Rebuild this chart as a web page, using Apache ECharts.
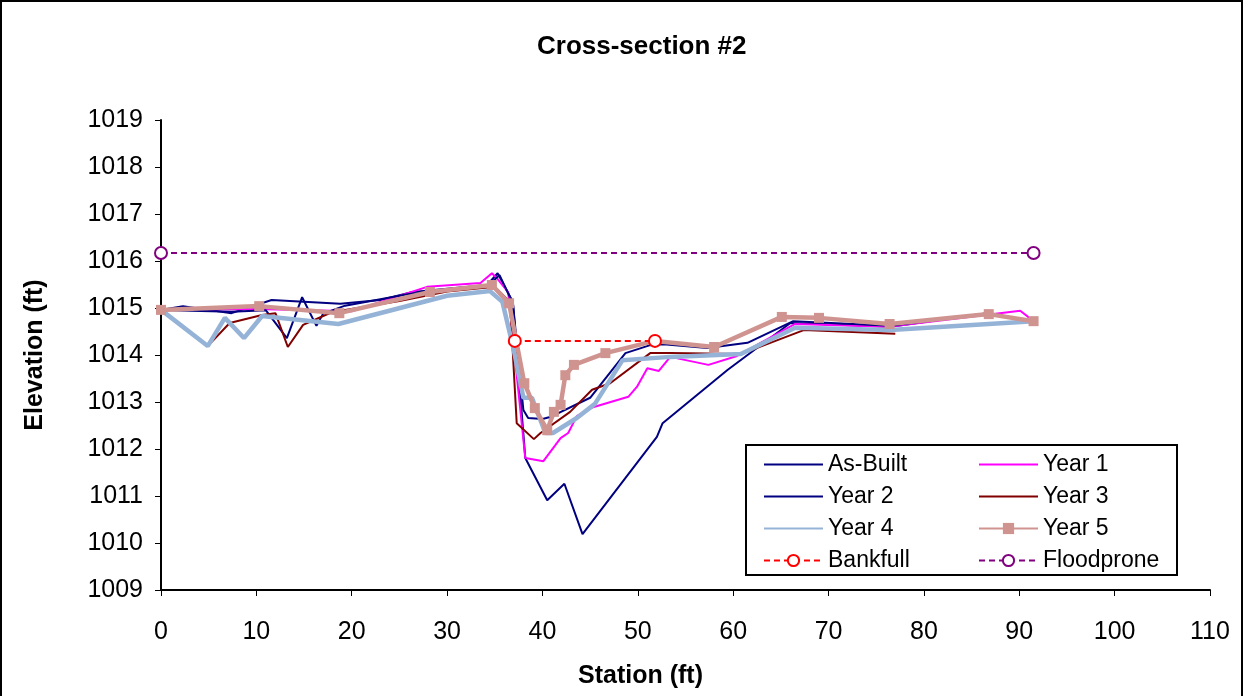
<!DOCTYPE html>
<html>
<head>
<meta charset="utf-8">
<script src="https://cdn.jsdelivr.net/npm/echarts@6/dist/echarts.min.js"></script>
<style>
  html, body { margin: 0; padding: 0; background: #fff; }
  #chart { width: 1243px; height: 696px; box-sizing: border-box; border: 2px solid #000; border-bottom: none; }
</style>
</head>
<body>
<div id="chart"></div>
<script>
// station (ft) / elevation (ft)
const asBuiltX = [0, 2.3, 7.4, 11.6, 18.8, 23, 26.4, 34.2, 35.3, 36.9, 38.2, 40.5, 42.3, 44.2, 52.0, 52.6, 59.4, 66.0, 76.5, 86.7, 91.5]
const asBuiltY = [1014.96, 1015.04, 1014.89, 1015.17, 1015.09, 1015.17, 1015.34, 1015.49, 1015.74, 1015.13, 1011.81, 1010.91, 1011.26, 1010.19, 1012.26, 1012.55, 1013.68, 1014.68, 1014.6, 1014.89, 1014.72]

const year1X = [0, 10, 20, 27.9, 33.5, 34.7, 35.2, 36.4, 38.2, 40.1, 41.9, 42.7, 43.6, 45.3, 49.0, 49.9, 51.0, 52.2, 53.4, 57.4, 60.4, 66.5, 76.3, 90.1, 91.5]
const year1Y = [1014.96, 1014.98, 1014.93, 1015.45, 1015.53, 1015.74, 1015.64, 1015.34, 1011.81, 1011.74, 1012.23, 1012.34, 1012.70, 1012.89, 1013.11, 1013.32, 1013.72, 1013.66, 1013.96, 1013.79, 1013.98, 1014.66, 1014.6, 1014.94, 1014.72]

const year2X = [0, 7.4, 11, 13.2, 14.8, 16.3, 17.0, 19.3, 26, 34.2, 35.5, 36.9, 38.0, 38.5, 40.0, 40.8, 45.0, 48.7, 51.3, 52.7, 57.3, 61.5, 66.3, 76.5, 86.7, 91.5]
const year2Y = [1014.96, 1014.92, 1014.95, 1014.36, 1015.23, 1014.62, 1014.88, 1015.05, 1015.3, 1015.45, 1015.7, 1015.1, 1012.83, 1012.66, 1012.64, 1012.68, 1013.09, 1014.04, 1014.21, 1014.23, 1014.15, 1014.26, 1014.72, 1014.62, 1014.89, 1014.72]

const year3X = [0, 4.9, 7.2, 10.6, 12.0, 13.3, 14.9, 17.9, 25, 30, 35, 36.6, 37.3, 39.1, 39.8, 42.9, 45.2, 47.1, 51.3, 53.4, 60.8, 67.4, 77.0]
const year3Y = [1014.96, 1014.19, 1014.68, 1014.85, 1014.89, 1014.17, 1014.64, 1014.91, 1015.15, 1015.35, 1015.45, 1015.13, 1012.55, 1012.21, 1012.34, 1012.79, 1013.26, 1013.4, 1014.04, 1014.04, 1014.02, 1014.53, 1014.45]

const year4X = [0, 4.9, 6.7, 8.7, 10.6, 18.6, 30, 34.5, 35.8, 37.0, 38.0, 38.9, 40.3, 41.1, 43.6, 45.5, 48.4, 53.4, 60.8, 66.5, 76.5, 91.5]
const year4Y = [1014.96, 1014.19, 1014.79, 1014.36, 1014.83, 1014.66, 1015.26, 1015.36, 1015.13, 1014.1, 1013.09, 1013.09, 1012.34, 1012.34, 1012.66, 1012.96, 1013.89, 1013.96, 1014.02, 1014.58, 1014.53, 1014.72]

const year5X = [0, 10.3, 18.7, 28.2, 34.7, 36.5, 38.1, 39.2, 40.5, 41.2, 41.9, 42.4, 43.3, 46.6, 51.8, 58.0, 65.1, 69.0, 76.4, 86.8, 91.5]
const year5Y = [1014.96, 1015.04, 1014.89, 1015.34, 1015.49, 1015.1, 1013.4, 1012.87, 1012.4, 1012.79, 1012.94, 1013.57, 1013.79, 1014.04, 1014.3, 1014.17, 1014.81, 1014.79, 1014.66, 1014.87, 1014.72]

const bankfullX = [37.1, 51.8]
const bankfullY = [1014.3, 1014.3]

const floodproneX = [0, 91.5]
const floodproneY = [1016.17, 1016.17]

const pairs = (xs, ys) => xs.map((x, i) => [x, ys[i]])

const chart = echarts.init(document.getElementById('chart'))

const font = 'Liberation Sans, Arial, sans-serif'
const legendText = { fontFamily: font, fontSize: 23, color: '#000' }
const nameStyle = { fontFamily: font, fontSize: 25, fontWeight: 'bold', color: '#000' }

// plain line icon in the legend for series without markers
const lineOnly = name => ({ name: name, itemStyle: { opacity: 0 } })

const option = {
  animation: false,
  title: {
    text: 'Cross-section #2',
    left: 530,
    top: 27,
    textStyle: { ...nameStyle, fontSize: 26 }
  },
  grid: { left: 159, right: 31, top: 118, bottom: 106 },
  xAxis: {
    type: 'value',
    min: 0,
    max: 110,
    interval: 10,
    name: 'Station (ft)',
    nameLocation: 'middle',
    nameGap: 74,
    nameTextStyle: { ...nameStyle, padding: [0, 90, 0, 0] },
    axisLine: { lineStyle: { color: '#000', width: 2 } },
    axisTick: { inside: false, length: 6, lineStyle: { color: '#000' } },
    axisLabel: { fontFamily: font, fontSize: 25, color: '#000', margin: 30 },
    splitLine: { show: false }
  },
  yAxis: {
    type: 'value',
    min: 1009,
    max: 1019,
    interval: 1,
    name: 'Elevation (ft)',
    nameLocation: 'middle',
    nameGap: 113,
    nameTextStyle: nameStyle,
    axisLine: { show: true, lineStyle: { color: '#000', width: 2 } },
    axisTick: { show: true, length: 6, lineStyle: { color: '#000' } },
    axisLabel: { fontFamily: font, fontSize: 25, color: '#000', margin: 18, formatter: v => String(v) },
    splitLine: { show: false }
  },
  legend: [
    {
      orient: 'vertical',
      left: 761,
      top: 451,
      padding: 0,
      itemWidth: 59,
      itemHeight: 14,
      itemGap: 9,
      textStyle: legendText,
      data: [lineOnly('As-Built'), lineOnly('Year 2'), lineOnly('Year 4'), 'Bankfull']
    },
    {
      orient: 'vertical',
      left: 976,
      top: 451,
      padding: 0,
      itemWidth: 59,
      itemHeight: 14,
      itemGap: 9,
      textStyle: legendText,
      data: [lineOnly('Year 1'), lineOnly('Year 3'), 'Year 5', 'Floodprone']
    }
  ],
  graphic: [
    {
      type: 'rect',
      left: 743,
      top: 442,
      z: 0,
      shape: { width: 431, height: 130 },
      style: { fill: '#fff', stroke: '#000', lineWidth: 2 }
    }
  ],
  series: [
    {
      name: 'As-Built', type: 'line', data: pairs(asBuiltX, asBuiltY),
      symbol: 'none', lineStyle: { color: '#000080', width: 2 }, itemStyle: { color: '#000080' }
    },
    {
      name: 'Year 1', type: 'line', data: pairs(year1X, year1Y),
      symbol: 'none', lineStyle: { color: '#FF00FF', width: 2 }, itemStyle: { color: '#FF00FF' }
    },
    {
      name: 'Year 2', type: 'line', data: pairs(year2X, year2Y),
      symbol: 'none', lineStyle: { color: '#000080', width: 2 }, itemStyle: { color: '#000080' }
    },
    {
      name: 'Year 3', type: 'line', data: pairs(year3X, year3Y),
      symbol: 'none', lineStyle: { color: '#800000', width: 2 }, itemStyle: { color: '#800000' }
    },
    {
      name: 'Year 4', type: 'line', data: pairs(year4X, year4Y),
      symbol: 'none', lineStyle: { color: '#95B3D7', width: 4.5 }, itemStyle: { color: '#95B3D7' }
    },
    {
      name: 'Year 5', type: 'line', data: pairs(year5X, year5Y),
      symbol: 'rect', symbolSize: 10,
      lineStyle: { color: '#D09490', width: 4.5 }, itemStyle: { color: '#D09490' }
    },
    {
      name: 'Bankfull', type: 'line', data: pairs(bankfullX, bankfullY),
      symbol: 'emptyCircle', symbolSize: 12,
      lineStyle: { color: '#FF0000', width: 2, type: [6, 4] },
      itemStyle: { color: '#FF0000', borderColor: '#FF0000', borderWidth: 2 }
    },
    {
      name: 'Floodprone', type: 'line', data: pairs(floodproneX, floodproneY),
      symbol: 'emptyCircle', symbolSize: 12,
      lineStyle: { color: '#800080', width: 2, type: [6, 4] },
      itemStyle: { color: '#800080', borderColor: '#800080', borderWidth: 2 }
    }
  ]
}

chart.setOption(option)
</script>
</body>
</html>
